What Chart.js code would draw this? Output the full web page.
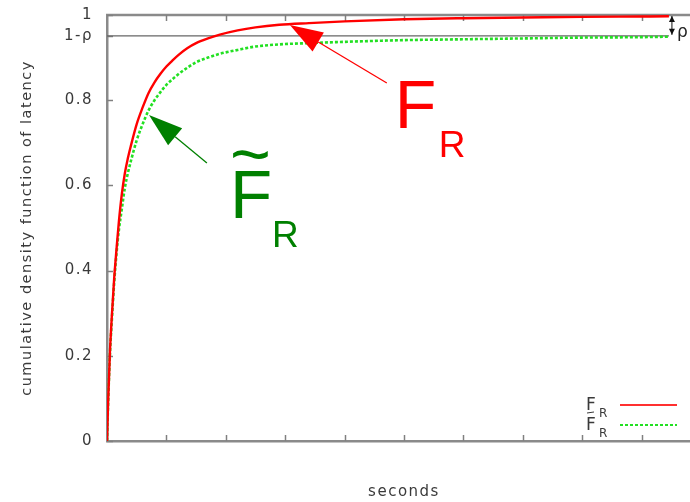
<!DOCTYPE html>
<html><head><meta charset="utf-8">
<script src="https://cdn.jsdelivr.net/npm/chart.js@4/dist/chart.umd.min.js"></script>
<style>
html,body{margin:0;padding:0;overflow:hidden;background:#fff;width:690px;height:502px}
#wrap{width:701px;height:502px}
</style></head>
<body><div id="wrap"><canvas id="c" width="701" height="502"></canvas></div>
<script>
// ---- data ----
const seconds    = [0, 0.02, 0.05, 0.08, 0.12, 0.16, 0.2, 0.25, 0.3, 0.35, 0.4, 0.5, 0.6, 0.7, 0.8, 0.9, 1.0, 1.1, 1.2, 1.35, 1.5, 1.7, 1.9, 2.2, 2.5, 2.9, 3.4, 4, 5, 6, 7, 8, 9, 9.46];
const cdfFR      = [0, 0.096, 0.21, 0.29, 0.38, 0.45, 0.515, 0.58, 0.628, 0.663, 0.692, 0.744, 0.783, 0.817, 0.842, 0.862, 0.879, 0.893, 0.906, 0.922, 0.934, 0.945, 0.954, 0.964, 0.971, 0.977, 0.981, 0.985, 0.990, 0.9925, 0.994, 0.9955, 0.9965, 0.997];
const cdfFRtilde = [0, 0.095, 0.205, 0.28, 0.37, 0.44, 0.495, 0.545, 0.594, 0.628, 0.656, 0.706, 0.744, 0.776, 0.800, 0.819, 0.836, 0.849, 0.861, 0.876, 0.889, 0.900, 0.909, 0.918, 0.926, 0.931, 0.934, 0.937, 0.941, 0.943, 0.945, 0.947, 0.948, 0.949];
const rho = 0.049;
const xTickValues = [0, 1, 2, 3, 4, 5, 6, 7, 8, 9, 10];
const yTickValues = [0, 0.2, 0.4, 0.6, 0.8, 1 - rho, 1];
const yTickLabels = ['0', '0.2', '0.4', '0.6', '0.8', '1-ρ', '1'];
const seriesNames = ['F', 'F'];   // both series are F_R, the second with a tilde
const seriesSub = 'R';
const xTitle = 'seconds';
const yTitle = 'cumulative density function of latency';

// annotation anchors in data units
const noteFR      = {tx: 4.845, ty: 0.7347, tipX: 3.079, tipY: 0.9765, tailX: 4.711, tailY: 0.8404};
const noteFRtilde = {tx: 2.069, ty: 0.5235, tipX: 0.7066, tipY: 0.7653, tailX: 1.682, tailY: 0.6526};

const RED = '#ff0000', GREEN = '#22e022', DKGREEN = '#008000', AXIS = '#8a8a8a', TXT = '#3a3a3a';
const FONT = 'DejaVu Sans';

function arrow(ctx, x1, y1, x2, y2, color, lw, headLen, headHalf) {
  const ang = Math.atan2(y2 - y1, x2 - x1);
  const bx = x2 - headLen * Math.cos(ang), by = y2 - headLen * Math.sin(ang);
  ctx.strokeStyle = color; ctx.fillStyle = color; ctx.lineWidth = lw;
  ctx.beginPath(); ctx.moveTo(x1, y1); ctx.lineTo(bx, by); ctx.stroke();
  ctx.beginPath(); ctx.moveTo(x2, y2);
  ctx.lineTo(bx + headHalf * Math.sin(ang), by - headHalf * Math.cos(ang));
  ctx.lineTo(bx - headHalf * Math.sin(ang), by + headHalf * Math.cos(ang));
  ctx.closePath(); ctx.fill();
}
function seg(ctx, x1, y1, x2, y2) { ctx.beginPath(); ctx.moveTo(x1, y1); ctx.lineTo(x2, y2); ctx.stroke(); }

const decor = {
  id: 'decor',
  beforeDraw(chart) { chart.ctx.letterSpacing = '1.5px'; },
  beforeDatasetsDraw(chart) {
    const {ctx, chartArea: a, scales: {x, y}} = chart;
    ctx.save();
    ctx.strokeStyle = AXIS; ctx.lineWidth = 2.5;
    seg(ctx, a.left - 1, a.top, a.right, a.top);
    ctx.lineWidth = 1.5; ctx.strokeStyle = '#808080';
    xTickValues.forEach(v => {
      if (v === 0) return;
      const px = Math.round(x.getPixelForValue(v)) + 0.5;
      seg(ctx, px, a.bottom, px, a.bottom - 6);
      seg(ctx, px, a.top, px, a.top + 6);
    });
    yTickValues.forEach(v => {
      const py = Math.round(y.getPixelForValue(v)) + 0.5;
      seg(ctx, a.left, py, a.left + 6, py);
    });
    ctx.restore();
  },
  afterDatasetsDraw(chart) {
    const {ctx, chartArea: a, scales: {x, y}} = chart;
    ctx.save();
    ctx.letterSpacing = '0px';
    ctx.textAlign = 'left'; ctx.textBaseline = 'alphabetic';
    // rho double arrow
    const ex = x.getPixelForValue(seconds[seconds.length - 1]) + 3;
    const y1 = y.getPixelForValue(1), y2 = y.getPixelForValue(1 - rho);
    ctx.strokeStyle = '#111'; ctx.fillStyle = '#111'; ctx.lineWidth = 1;
    seg(ctx, ex, y1 + 1, ex, y2 - 1);
    ctx.beginPath(); ctx.moveTo(ex, y1 + 1); ctx.lineTo(ex - 3, y1 + 7); ctx.lineTo(ex + 3, y1 + 7); ctx.closePath(); ctx.fill();
    ctx.beginPath(); ctx.moveTo(ex, y2 - 1); ctx.lineTo(ex - 3, y2 - 7); ctx.lineTo(ex + 3, y2 - 7); ctx.closePath(); ctx.fill();
    ctx.fillStyle = '#222'; ctx.font = '17px "' + FONT + '"';
    ctx.fillText('ρ', ex + 5, y2 + 1);

    // F_R annotation
    arrow(ctx, x.getPixelForValue(noteFR.tailX), y.getPixelForValue(noteFR.tailY),
          x.getPixelForValue(noteFR.tipX), y.getPixelForValue(noteFR.tipY), RED, 1.3, 33, 11);
    let tx = x.getPixelForValue(noteFR.tx), ty = y.getPixelForValue(noteFR.ty);
    ctx.fillStyle = RED;
    ctx.font = '68px "Liberation Sans"'; ctx.fillText(seriesNames[0], tx, ty);
    ctx.font = '37px "Liberation Sans"'; ctx.fillText(seriesSub, tx + 44, ty + 29);

    // F~_R annotation
    arrow(ctx, x.getPixelForValue(noteFRtilde.tailX), y.getPixelForValue(noteFRtilde.tailY),
          x.getPixelForValue(noteFRtilde.tipX), y.getPixelForValue(noteFRtilde.tipY), DKGREEN, 1.3, 34, 11);
    tx = x.getPixelForValue(noteFRtilde.tx); ty = y.getPixelForValue(noteFRtilde.ty);
    ctx.fillStyle = DKGREEN;
    ctx.font = '69px "Liberation Sans"'; ctx.fillText(seriesNames[1], tx, ty);
    ctx.font = '70px "Liberation Sans"'; ctx.fillText('~', tx, ty - 40);
    ctx.font = '37px "Liberation Sans"'; ctx.fillText(seriesSub, tx + 42, ty + 29);

    // legend (bottom right)
    const lx1 = a.right - 81, lx2 = a.right - 24;
    const ly = [a.bottom - 36, a.bottom - 16];
    ctx.font = '17px "' + FONT + '"'; ctx.fillStyle = TXT;
    ctx.fillText(seriesNames[0], lx1 - 34, ly[0] + 5);
    ctx.font = '12px "' + FONT + '"'; ctx.fillText(seriesSub, lx1 - 21, ly[0] + 12);
    ctx.font = '17px "' + FONT + '"';
    ctx.fillText(seriesNames[1], lx1 - 34, ly[1] + 5);
    ctx.font = '12px "' + FONT + '"'; ctx.fillText(seriesSub, lx1 - 21, ly[1] + 12);
    ctx.strokeStyle = TXT; ctx.lineWidth = 1; seg(ctx, lx1 - 33, ly[1] - 12, lx1 - 26, ly[1] - 13);
    ctx.lineWidth = 2.2; ctx.strokeStyle = '#ff3030';
    seg(ctx, lx1, ly[0], lx2, ly[0]);
    ctx.strokeStyle = GREEN; ctx.setLineDash([3, 2]);
    seg(ctx, lx1, ly[1], lx2, ly[1]);
    ctx.restore();
  }
};

new Chart(document.getElementById('c'), {
  type: 'line',
  data: {
    datasets: [
      {label: 'F_R', data: seconds.map((s, i) => ({x: s, y: cdfFR[i]})),
       borderColor: RED, borderWidth: 2.4, pointRadius: 0, cubicInterpolationMode: 'monotone', order: 1},
      {label: 'F~_R', data: seconds.map((s, i) => ({x: s, y: cdfFRtilde[i]})),
       borderColor: GREEN, borderWidth: 2.6, borderDash: [3, 2], pointRadius: 0, cubicInterpolationMode: 'monotone', order: 2},
      {label: '1-rho', data: [{x: seconds[0], y: 1 - rho}, {x: seconds[seconds.length - 1], y: 1 - rho}],
       borderColor: '#666', borderWidth: 1.3, pointRadius: 0, order: 3}
    ]
  },
  options: {
    responsive: false, animation: false,
    layout: {padding: {top: 15, left: 0, right: 0, bottom: 0}},
    plugins: {legend: {display: false}, tooltip: {enabled: false}},
    scales: {
      x: {
        type: 'linear', min: 0, max: 10,
        grid: {display: false},
        border: {display: true, color: AXIS, width: 2.5},
        ticks: {display: false},
        title: {display: true, text: xTitle, color: TXT, font: {family: FONT, size: 15}, padding: {top: 0, bottom: 1}},
        afterFit(s) { s.height = 61; }
      },
      y: {
        type: 'linear', min: 0, max: 1,
        grid: {display: true, drawOnChartArea: false, drawTicks: true, tickLength: 13, tickColor: 'rgba(0,0,0,0)'},
        border: {display: true, color: AXIS, width: 2.5},
        afterBuildTicks(s) { s.ticks = yTickValues.map(v => ({value: v})); },
        ticks: {autoSkip: false, callback: (v, i) => yTickLabels[i], color: TXT, font: {family: FONT, size: 15}, padding: 1},
        title: {display: true, text: yTitle, color: TXT, font: {family: FONT, size: 14.5}, padding: {top: 19, bottom: 0}},
        afterFit(s) { s.width = 107; }
      }
    }
  },
  plugins: [decor]
});
</script>
</body></html>
